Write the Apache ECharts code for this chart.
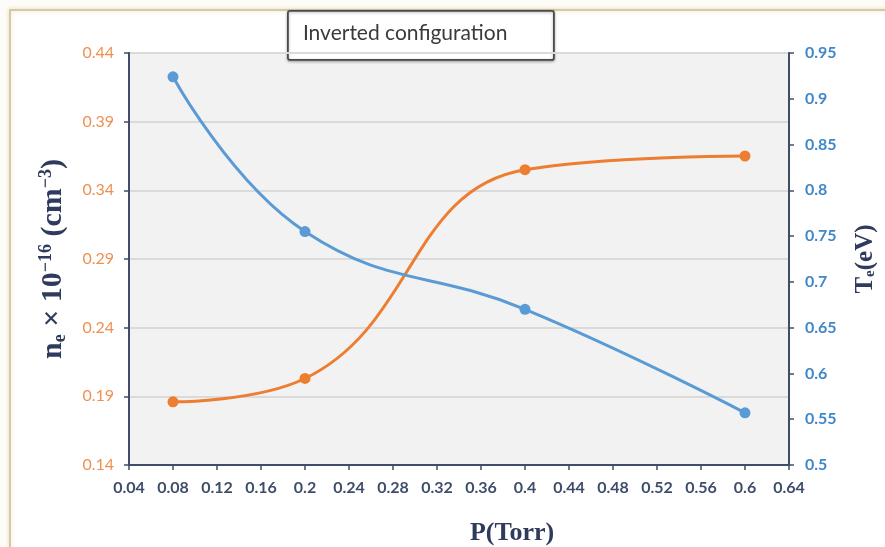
<!DOCTYPE html>
<html>
<head>
<meta charset="utf-8">
<script src="https://cdn.jsdelivr.net/npm/echarts@6/dist/echarts.min.js"></script>
<style>
  html, body { margin: 0; padding: 0; background: #ffffff; }
  #chart { width: 885px; height: 547px; }
</style>
</head>
<body>
<div id="chart"></div>
<script>
// Pressure values (Torr) at which the probe was measured
const pressure = [0.08, 0.2, 0.4, 0.6];
// Electron density n_e × 10^-16 (cm^-3), left axis
const electronDensity = [0.186, 0.203, 0.355, 0.365];
// Electron temperature T_e (eV), right axis
const electronTemp = [0.924, 0.755, 0.670, 0.557];

const chartTitle = 'Inverted configuration';

const axisColor = '#3f4d6b';
const nameColor = '#2f3b5c';
const orange = '#ed7d31';
const blue = '#5b9bd5';
const fmt = v => String(+v.toFixed(2));

const chart = echarts.init(document.getElementById('chart'));
chart.setOption({
  animation: false,
  backgroundColor: '#fdfcf8',
  graphic: [{
    // outer chart frame
    type: 'rect',
    shape: { x: 10, y: 10, width: 900, height: 560 },
    style: { fill: '#ffffff', stroke: '#d6c9a4', lineWidth: 2,
             shadowColor: 'rgba(200,180,120,0.4)', shadowBlur: 4 },
    z: -10
  }, {
    // boxed caption sitting over the top edge of the plot
    type: 'group',
    left: 287, top: 10,
    z: 100,
    children: [{
      type: 'rect',
      shape: { x: 0, y: 0, width: 266, height: 49, r: 2 },
      style: { fill: '#ffffff', stroke: '#4a4a4a', lineWidth: 1.8,
               shadowColor: 'rgba(0,0,0,0.3)', shadowBlur: 3, shadowOffsetY: 1 }
    }, {
      type: 'text',
      x: 15, y: 22,
      style: { text: chartTitle, fontFamily: 'Lato', fontSize: 21, fill: '#3a3a3a',
               verticalAlign: 'middle', align: 'left' }
    }]
  }],
  grid: {
    left: 129, right: 96, top: 53, bottom: 82,
    outerBoundsMode: 'none',
    containLabel: false,
    show: true, backgroundColor: '#f2f2f2',
    borderColor: axisColor, borderWidth: 2
  },
  xAxis: {
    type: 'value', min: 0.04, max: 0.64, interval: 0.04,
    name: 'P(Torr)', nameLocation: 'middle', nameGap: 55,
    nameTextStyle: { fontFamily: 'Liberation Serif', fontWeight: 'bold', fontSize: 26, color: nameColor,
                     padding: [0, 0, 0, 106] },
    axisLine: { show: true, lineStyle: { color: axisColor, width: 2 } },
    axisTick: { show: true, length: 5, lineStyle: { color: axisColor, width: 1.5 } },
    axisLabel: { fontFamily: 'Lato', fontSize: 16, fontWeight: 'bold', color: axisColor, margin: 15, formatter: fmt },
    splitLine: { show: false }
  },
  yAxis: [{
    type: 'value', position: 'left', min: 0.14, max: 0.44, interval: 0.05,
    name: '{b|n}{sub|e}{b| × 10}{sup|−16}{b| (cm}{sup|−3}{b|)}',
    nameLocation: 'middle', nameGap: 59, nameRotate: 90,
    nameTextStyle: {
      color: nameColor,
      rich: {
        b: { fontFamily: 'Liberation Serif', fontWeight: 'bold', fontSize: 30, color: nameColor },
        sub: { fontFamily: 'Liberation Serif', fontWeight: 'bold', fontSize: 18, color: nameColor, padding: [13, 0, 0, 0] },
        sup: { fontFamily: 'Liberation Serif', fontWeight: 'bold', fontSize: 18, color: nameColor, padding: [0, 0, 15, 0] }
      }
    },
    axisLine: { show: true, lineStyle: { color: axisColor, width: 2 } },
    axisTick: { show: true, length: 5, lineStyle: { color: axisColor, width: 1.5 } },
    axisLabel: { fontFamily: 'Lato', fontSize: 16, color: '#ef9052', margin: 15, formatter: fmt },
    splitLine: { show: true, lineStyle: { color: '#dadada', width: 2 } }
  }, {
    type: 'value', position: 'right', min: 0.5, max: 0.95, interval: 0.05,
    name: '{b|T}{sub|e}{b|(eV)}',
    nameLocation: 'middle', nameGap: 64, nameRotate: 90,
    nameTextStyle: {
      color: nameColor,
      rich: {
        b: { fontFamily: 'Liberation Serif', fontWeight: 'bold', fontSize: 25, color: nameColor },
        sub: { fontFamily: 'Liberation Serif', fontWeight: 'bold', fontSize: 15, color: nameColor, padding: [10, 0, 0, 0] }
      }
    },
    axisLine: { show: true, lineStyle: { color: axisColor, width: 2 } },
    axisTick: { show: true, length: 5, lineStyle: { color: axisColor, width: 1.5 } },
    axisLabel: { fontFamily: 'Lato', fontSize: 16, fontWeight: 'bold', color: '#3f87c8', margin: 16, formatter: fmt },
    splitLine: { show: false }
  }],
  series: [{
    name: 'n_e',
    type: 'line', yAxisIndex: 0,
    data: pressure.map((p, i) => [p, electronDensity[i]]),
    smooth: 0.45,
    symbol: 'circle', symbolSize: 11,
    lineStyle: { color: orange, width: 3 },
    itemStyle: { color: orange },
    z: 3
  }, {
    name: 'T_e',
    type: 'line', yAxisIndex: 1,
    data: pressure.map((p, i) => [p, electronTemp[i]]),
    smooth: 0.45,
    symbol: 'circle', symbolSize: 11,
    lineStyle: { color: blue, width: 3 },
    itemStyle: { color: blue },
    z: 4
  }]
});
</script>
</body>
</html>
